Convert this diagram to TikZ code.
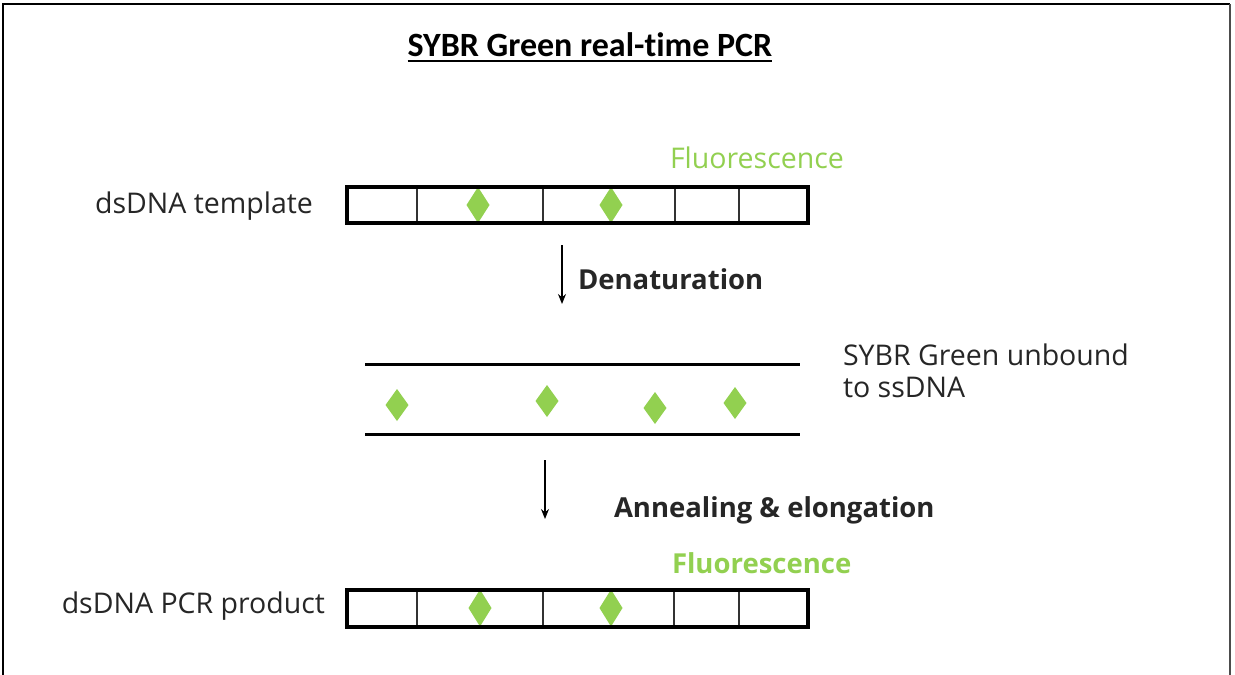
\documentclass[tikz,border=0pt]{standalone}
\usepackage{fontspec}
\setmainfont{Open Sans}
\newfontfamily\titlefont[Ligatures={NoCommon}]{Carlito}
\usetikzlibrary{arrows.meta}
\definecolor{fgreen}{RGB}{146,208,80}
\tikzset{
  every node/.style={inner sep=0pt, outer sep=0pt},
  lbl/.style={font=\fontsize{28.5}{32}\selectfont, text=black!85},
  blbl/.style={font=\fontsize{27.5}{32}\selectfont\bfseries, text=black!85},
  gfl/.style={font=\fontsize{28.5}{32}\selectfont, text=fgreen},
  gflb/.style={font=\fontsize{27.5}{32}\selectfont\bfseries, text=fgreen},
  dnabox/.style={draw=black, line width=3.5pt},
  divider/.style={draw=black!80, line width=1.8pt},
  strand/.style={draw=black, line width=3pt},
  sybr/.style={fill=fgreen},
  flow/.style={draw=black, line width=1.5pt, -{Stealth[length=10pt,width=8pt]}},
}
\newcommand{\dia}[4]{% name, x, y, halfheight
  \fill[sybr] (#2-11.5,#3) -- (#2,#3-#4) -- (#2+11.5,#3) -- (#2,#3+#4) -- cycle;
  \coordinate (#1) at (#2,#3);
}
\begin{document}
\begin{tikzpicture}[x=1pt,y=-1pt]
\useasboundingbox (0,0) rectangle (1235,675);
\fill[white] (0,0) rectangle (1235,675);
% frame
\draw[line width=2.5pt] (3,680) -- (3,4) -- (1230,4);
\draw[line width=2pt, black!70] (1230,4) -- (1230,680);
% title
\node (title) at (590,45) {\titlefont\fontsize{34}{38}\selectfont\bfseries SYBR Green real-time PCR};
\draw[line width=1.8pt] ([yshift=-4pt]title.south west) -- ([yshift=-4pt]title.south east);
% top box
\node[gfl, anchor=west] (fl1) at (670,158) {Fluorescence};
\node[lbl, anchor=east] (tmpl) at (313,206) {dsDNA template};
\dia{d1}{478}{205}{18}
\dia{d2}{611}{205}{18}
\foreach \x in {417,543,675,739} \draw[divider] (\x,187) -- (\x,223);
\node[dnabox, minimum width=461pt, minimum height=36pt, anchor=north west] (box1) at (347,187) {};
% arrow 1
\coordinate (a1s) at (562,245);
\coordinate (a1e) at (562,304);
\draw[flow] (a1s) -- (a1e);
\node[blbl, anchor=west] (den) at (578,279) {Denaturation};
% ss strands
\coordinate (s1a) at (365,364); \coordinate (s1b) at (800,364);
\coordinate (s2a) at (365,434); \coordinate (s2b) at (800,434);
\draw[strand] (s1a) -- (s1b);
\draw[strand] (s2a) -- (s2b);
\dia{e1}{397}{405}{16}
\dia{e2}{547}{401}{16}
\dia{e3}{655}{408}{16}
\dia{e4}{735}{403}{16}
\node[lbl, anchor=west, align=left] (unb) at (843,371) {SYBR Green unbound\\to ssDNA};
% arrow 2
\coordinate (a2s) at (545,460);
\coordinate (a2e) at (545,519);
\draw[flow] (a2s) -- (a2e);
\node[blbl, anchor=west] (ann) at (614,510) {Annealing \& elongation};
% bottom box
\node[gflb, anchor=west] (fl2) at (672,563) {Fluorescence};
\node[lbl, anchor=east] (prod) at (325,606) {dsDNA PCR product};
\dia{f1}{480}{608}{18.5}
\dia{f2}{611}{608}{18.5}
\foreach \x in {417,543,674,739} \draw[divider] (\x,590) -- (\x,627);
\node[dnabox, minimum width=461pt, minimum height=37pt, anchor=north west] (box2) at (347,590) {};
\end{tikzpicture}
\end{document}
